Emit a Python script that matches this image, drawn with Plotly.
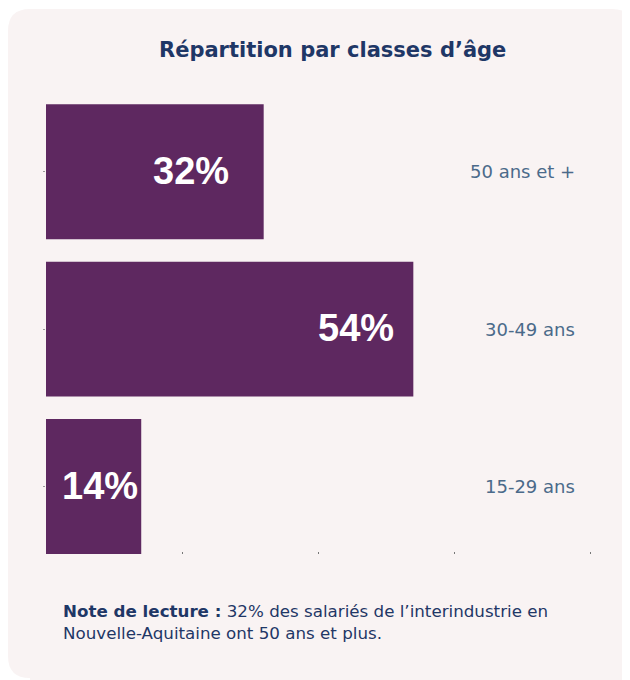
import plotly.graph_objects as go

# ---- data ----
categories = ["15-29 ans", "30-49 ans", "50 ans et +"]
values = [14, 54, 32]
value_labels = ["14%", "54%", "32%"]
x_ticks = [20, 40, 60, 80]
title_text = "Répartition par classes d’âge"
note_bold = "Note de lecture :"
note_rest_1 = " 32% des salariés de l’interindustrie en"
note_rest_2 = "Nouvelle-Aquitaine ont 50 ans et plus."

# ---- styles ----
W, H = 630, 680
OFF = 8  # page offset of the figure in the window
X_MAX = 81
ML, MT, MB = 46 - OFF, 93 - OFF, 126 + OFF
MR = W - ML - round(X_MAX * 6.8)
BAR_COLOR = "#5e2860"
BG = "#f9f3f3"
NAVY = "#1f3766"
SLATE = "#4b6a8a"
label_shift = [-1, -17, -33]

pw = W - ML - MR
ph = H - MT - MB

def px_x(p):
    return (p - OFF - ML) / pw

def px_y(p):
    return (H - MB - (p - OFF)) / ph

fig = go.Figure()
fig.add_trace(go.Bar(
    x=values, y=categories, orientation="h",
    marker=dict(color=BAR_COLOR, line=dict(width=0)),
    hoverinfo="skip",
))

# rounded background panel (screen pixel geometry converted to paper coords)
x0, y0, x1, y1, r = 8, 9, 634, 678, 22
path = (
    f"M {px_x(x0 + r)},{px_y(y0)} "
    f"L {px_x(x1 - r)},{px_y(y0)} "
    f"Q {px_x(x1)},{px_y(y0)} {px_x(x1)},{px_y(y0 + r)} "
    f"L {px_x(x1)},{px_y(y1 + 20)} "
    f"L {px_x(x0 + r)},{px_y(y1 + 20)} "
    f"L {px_x(x0 + r)},{px_y(y1)} "
    f"Q {px_x(x0)},{px_y(y1)} {px_x(x0)},{px_y(y1 - r)} "
    f"L {px_x(x0)},{px_y(y0 + r)} "
    f"Q {px_x(x0)},{px_y(y0)} {px_x(x0 + r)},{px_y(y0)} Z"
)
fig.add_shape(type="path", path=path, xref="paper", yref="paper",
              fillcolor=BG, line=dict(width=0), layer="below")

annotations = []
# value labels inside bars
for cat, v, lab, sh in zip(categories, values, value_labels, label_shift):
    annotations.append(dict(
        x=v, y=cat, xref="x", yref="y", text=lab, showarrow=False,
        xanchor="right", yanchor="middle", xshift=sh, yshift=1,
        font=dict(family="Liberation Sans, Arial, sans-serif", size=38, color="white", weight="bold"),
    ))
# category labels on the right
for cat in categories:
    annotations.append(dict(
        x=px_x(577), y=cat, xref="paper", yref="y", text=cat, showarrow=False,
        xanchor="right", yanchor="middle",
        font=dict(family="DejaVu Sans, sans-serif", size=18, color=SLATE),
    ))
# title
annotations.append(dict(
    x=px_x(332), y=px_y(50), xref="paper", yref="paper", text=f"<b>{title_text}</b>",
    showarrow=False, xanchor="center", yanchor="middle",
    font=dict(family="DejaVu Sans, sans-serif", size=21, color=NAVY),
))
# note
annotations.append(dict(
    x=px_x(61), y=px_y(599), xref="paper", yref="paper",
    text=f"<b>{note_bold}</b>{note_rest_1}<br>{note_rest_2}",
    showarrow=False, xanchor="left", yanchor="top", align="left",
    font=dict(family="DejaVu Sans, sans-serif", size=16.7, color=NAVY),
))

fig.update_layout(
    width=W, height=H,
    margin=dict(l=ML, r=MR, t=MT, b=MB, pad=0),
    paper_bgcolor="white", plot_bgcolor="rgba(0,0,0,0)",
    showlegend=False, bargap=0.143,
    annotations=annotations,
)
fig.update_xaxes(range=[0, X_MAX], tickvals=x_ticks, showticklabels=False,
                 ticks="inside", ticklen=2, tickcolor="#777", tickwidth=1,
                 showgrid=False, zeroline=False, showline=False, fixedrange=True)
fig.update_yaxes(range=[-0.4286, 2.5], showticklabels=False,
                 ticks="outside", ticklen=2, tickcolor="#999",
                 showgrid=False, zeroline=False, showline=False, fixedrange=True)

fig.write_html("out.html")
